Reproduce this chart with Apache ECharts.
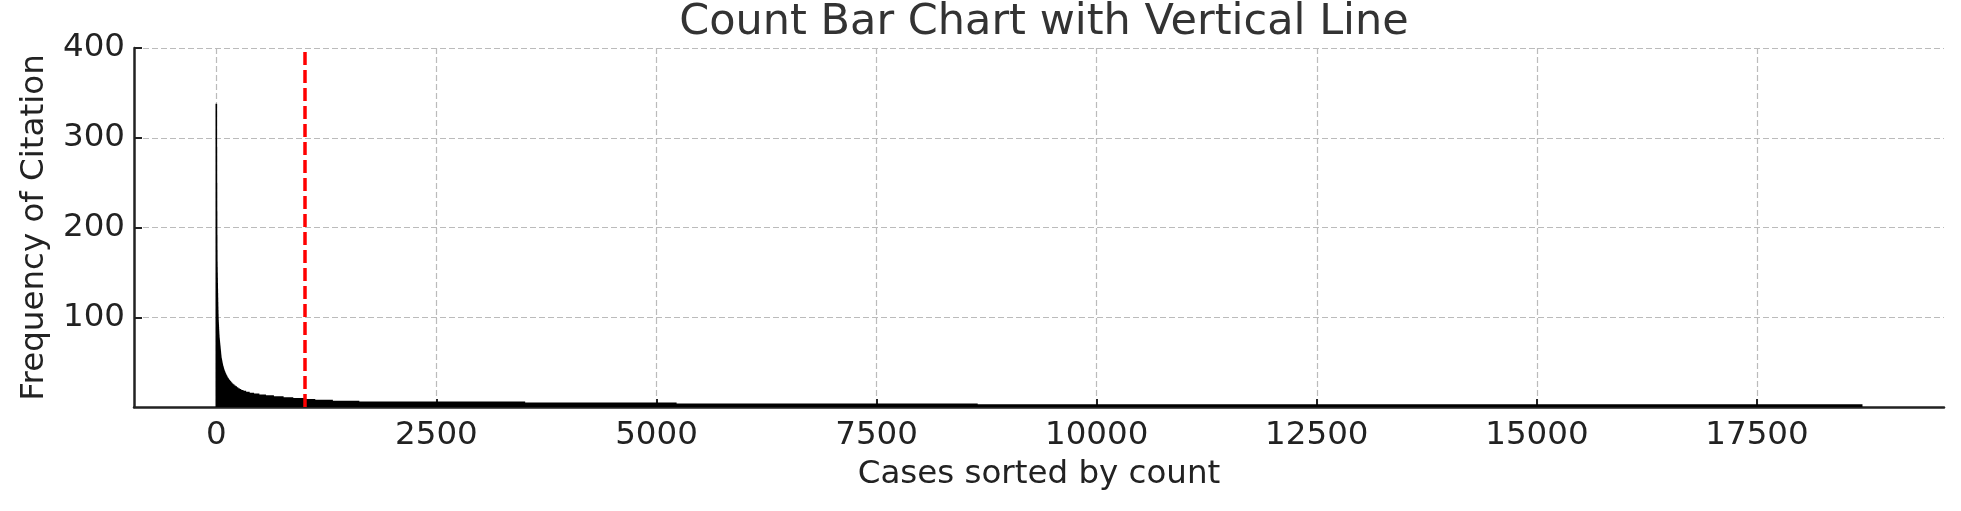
<!DOCTYPE html>
<html>
<head>
<meta charset="utf-8">
<title>Count Bar Chart with Vertical Line</title>
<script src="https://cdn.jsdelivr.net/npm/echarts@6/dist/echarts.min.js"></script>
<style>
  html, body { margin: 0; padding: 0; background: #fff; }
  #chart { width: 1961px; height: 511px; }
</style>
</head>
<body>
<div id="chart"></div>
<script>
// first cases of the spike, one count per case
const headCounts = [338, 290, 250, 218, 192, 175, 162, 156, 150, 144, 138, 132, 127, 122, 117, 112, 108, 104, 100, 97,
  95, 93, 91, 89, 87, 85, 83, 81, 80, 78, 77, 76, 75, 74, 73, 72, 71, 70, 69, 68]

// after the spike the counts come in runs: a count and how many cases share it
const runCounts = [67, 66, 65, 64, 63, 62, 61, 60, 59, 58, 57, 56,
  55, 54, 53, 52, 51, 50, 49, 48, 47,
  46, 45, 44, 43, 42,
  41, 40, 39, 38,
  37, 36, 35,
  34, 33, 32, 31, 30, 29, 28, 27, 26, 25, 24, 23, 22, 21, 20,
  19, 18, 17, 16, 15, 14, 13, 12, 11, 10, 9, 8, 7, 6, 5, 4, 3]
const runLengths = [1, 1, 1, 1, 1, 1, 1, 1, 1, 1, 1, 1,
  2, 2, 2, 2, 2, 2, 2, 2, 2,
  3, 3, 3, 3, 3,
  4, 4, 4, 4,
  5, 5, 5,
  6, 6, 7, 7, 8, 8, 9, 10, 11, 12, 13, 14, 15, 16, 18,
  25, 30, 40, 50, 60, 75, 90, 110, 110, 125, 125, 200, 300, 1884, 1720, 3420, 10050]

const cutoff = 1000
const xTicks = [0, 2500, 5000, 7500, 10000, 12500, 15000, 17500]
const yTicks = [100, 200, 300, 400]

const counts = headCounts.slice()
runCounts.forEach((v, k) => {
  for (let n = 0; n < runLengths[k]; n++) counts.push(v)
})
const barData = counts.map((v, i) => [i, v])

const font = 'DejaVu Sans'
const gridLine = { color: '#bbbbbb', width: 1.2, type: [6, 3] }
const spine = { color: '#222', width: 2.5 }

const chart = echarts.init(document.getElementById('chart'))
chart.setOption({
  animation: false,
  textStyle: { fontFamily: font },
  title: {
    text: 'Count Bar Chart with Vertical Line',
    left: 1039,
    textAlign: 'center',
    top: -4,
    textStyle: { fontFamily: font, fontSize: 43, fontWeight: 'normal', color: '#333' }
  },
  grid: { left: 134, right: 17, top: 48, bottom: 104, outerBoundsMode: 'none' },
  xAxis: {
    type: 'value',
    min: -935,
    max: 19624,
    name: 'Cases sorted by count',
    nameLocation: 'middle',
    nameGap: 51,
    nameTextStyle: { fontFamily: font, fontSize: 32.5, color: '#222' },
    axisLine: { show: true, onZero: false, lineStyle: spine },
    axisTick: { show: true, inside: true, length: 8, customValues: xTicks, lineStyle: { color: '#222', width: 2 } },
    axisLabel: {
      customValues: xTicks,
      formatter: v => String(v),
      fontFamily: font, fontSize: 32.5, color: '#222', margin: 12
    },
    splitLine: { show: true, lineStyle: gridLine }
  },
  yAxis: {
    type: 'value',
    min: 0,
    max: 400,
    interval: 100,
    name: 'Frequency of Citation',
    nameLocation: 'middle',
    nameGap: 83,
    nameTextStyle: { fontFamily: font, fontSize: 32.5, color: '#222' },
    axisLine: { show: true, onZero: false, lineStyle: spine },
    axisTick: { show: true, inside: true, length: 8, customValues: yTicks, lineStyle: { color: '#222', width: 2 } },
    axisLabel: { customValues: yTicks, fontFamily: font, fontSize: 32.5, color: '#222', margin: 9 },
    splitLine: { show: true, lineStyle: gridLine }
  },
  series: [
    {
      type: 'bar',
      data: barData,
      large: true,
      largeThreshold: 2000,
      progressive: 0,
      barWidth: 1.6,
      itemStyle: { color: '#000' },
      markLine: {
        silent: true,
        symbol: 'none',
        label: { show: false },
        lineStyle: { color: '#ff0000', width: 3.5, type: [13, 5] },
        data: [{ xAxis: cutoff }]
      }
    }
  ]
})
</script>
</body>
</html>
